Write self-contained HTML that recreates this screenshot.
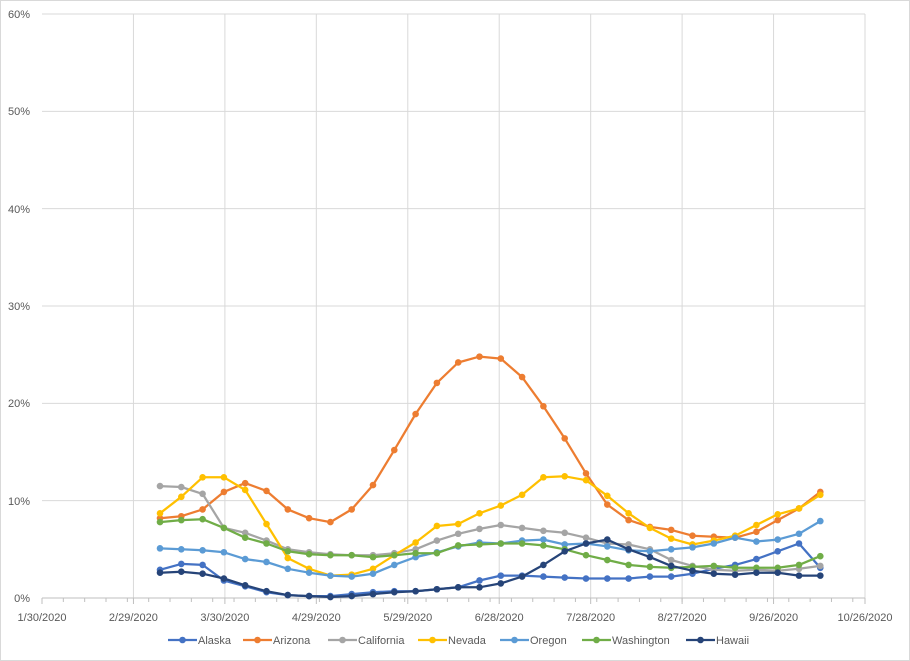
<!DOCTYPE html>
<html><head><meta charset="utf-8"><style>
html,body{margin:0;padding:0;background:#fff;}
svg{display:block;font-family:"Liberation Sans",Arial,sans-serif;}
</style></head><body>
<svg id="c" width="910" height="661" viewBox="0 0 910 661" xmlns="http://www.w3.org/2000/svg">
<rect x="0.5" y="0.5" width="909" height="660" fill="#fff" stroke="#d9d9d9"/>
<g id="grid" stroke="#d9d9d9" stroke-width="1"></g>
<g id="ylab" font-size="11" fill="#595959" text-anchor="end">
<text x="30" y="18">60%</text><text x="30" y="115">50%</text><text x="30" y="213">40%</text>
<text x="30" y="310">30%</text><text x="30" y="407">20%</text><text x="30" y="505">10%</text><text x="30" y="602">0%</text>
</g>
<g id="xlab" font-size="11" fill="#595959" text-anchor="middle">
<text x="42" y="621">1/30/2020</text><text x="133.4" y="621">2/29/2020</text><text x="224.9" y="621">3/30/2020</text>
<text x="316.3" y="621">4/29/2020</text><text x="407.8" y="621">5/29/2020</text><text x="499.2" y="621">6/28/2020</text>
<text x="590.7" y="621">7/28/2020</text><text x="682.1" y="621">8/27/2020</text><text x="773.6" y="621">9/26/2020</text>
<text x="865" y="621">10/26/2020</text>
</g>
<g id="series"></g>
<g id="legend" font-size="11" fill="#595959"></g>
</svg>
<script>
var NS="http://www.w3.org/2000/svg";
function el(n,a,p){var e=document.createElementNS(NS,n);for(var k in a)e.setAttribute(k,a[k]);p.appendChild(e);return e;}
var g=document.getElementById('grid');
var X0=42,X1=865,Y0=598,YT=14;
for(var i=1;i<=6;i++){var y=Y0-(Y0-YT)*i/6;el('line',{x1:X0,x2:X1,y1:y,y2:y},g);}
for(var i=1;i<=9;i++){var x=X0+(X1-X0)*i/9;el('line',{x1:x,x2:x,y1:YT,y2:Y0},g);}
el('line',{x1:X0,x2:X1,y1:Y0,y2:Y0,stroke:'#bfbfbf'},g);
for(var d=0;d<=270;d+=7){var x=X0+(X1-X0)*d/270;el('line',{x1:x,x2:x,y1:Y0,y2:Y0+4,stroke:'#bfbfbf'},g);}
for(var i=0;i<=9;i++){var x=X0+(X1-X0)*i/9;el('line',{x1:x,x2:x,y1:Y0,y2:Y0+6,stroke:'#bfbfbf'},g);}
var S=[
["Alaska","#4472C4",[2.9,3.5,3.4,1.8,1.2,0.6,0.3,0.2,0.2,0.4,0.6,0.7,0.7,0.9,1.1,1.8,2.3,2.3,2.2,2.1,2.0,2.0,2.0,2.2,2.2,2.5,3.0,3.4,4.0,4.8,5.6,3.1]],
["Arizona","#ED7D31",[8.2,8.4,9.1,10.9,11.8,11.0,9.1,8.2,7.8,9.1,11.6,15.2,18.9,22.1,24.2,24.8,24.6,22.7,19.7,16.4,12.8,9.6,8.0,7.3,7.0,6.4,6.3,6.2,6.8,8.0,9.2,10.9]],
["California","#A5A5A5",[11.5,11.4,10.7,7.2,6.7,5.9,5.0,4.7,4.5,4.4,4.4,4.6,5.0,5.9,6.6,7.1,7.5,7.2,6.9,6.7,6.2,5.6,5.5,5.0,3.9,3.3,2.9,2.8,2.9,2.8,3.0,3.3]],
["Nevada","#FFC000",[8.7,10.4,12.4,12.4,11.1,7.6,4.1,3.0,2.3,2.4,3.0,4.4,5.7,7.4,7.6,8.7,9.5,10.6,12.4,12.5,12.1,10.5,8.7,7.2,6.1,5.5,5.9,6.4,7.5,8.6,9.2,10.6]],
["Oregon","#5B9BD5",[5.1,5.0,4.9,4.7,4.0,3.7,3.0,2.6,2.3,2.2,2.5,3.4,4.2,4.7,5.3,5.7,5.6,5.9,6.0,5.5,5.6,5.3,4.9,4.8,5.0,5.2,5.6,6.2,5.8,6.0,6.6,7.9]],
["Washington","#70AD47",[7.8,8.0,8.1,7.2,6.2,5.6,4.8,4.5,4.4,4.4,4.2,4.4,4.6,4.6,5.4,5.5,5.6,5.6,5.4,5.0,4.4,3.9,3.4,3.2,3.1,3.2,3.3,3.1,3.1,3.1,3.4,4.3]],
["Hawaii","#264478",[2.6,2.7,2.5,2.0,1.3,0.7,0.3,0.2,0.1,0.2,0.4,0.6,0.7,0.9,1.1,1.1,1.5,2.2,3.4,4.8,5.6,6.0,5.0,4.2,3.3,2.8,2.5,2.4,2.6,2.6,2.3,2.3]]
];
var sg=document.getElementById('series');
S.forEach(function(s){
 var pts=s[2].map(function(v,i){return [160+i*21.3, Y0-(Y0-YT)*v/60];});
 el('polyline',{points:pts.map(function(p){return p[0].toFixed(1)+','+p[1].toFixed(1)}).join(' '),fill:'none',stroke:s[1],'stroke-width':2.25,'stroke-linejoin':'round'},sg);
 pts.forEach(function(p){el('circle',{cx:p[0],cy:p[1],r:3.3,fill:s[1]},sg);});
});
var lg=document.getElementById('legend');
var LX=[168,243,328,418,500,582,686];
S.forEach(function(s,i){
 var x=LX[i];
 el('line',{x1:x,x2:x+29,y1:640,y2:640,stroke:s[1],'stroke-width':2.25},lg);
 el('circle',{cx:x+14.5,cy:640,r:3.3,fill:s[1]},lg);
 var t=el('text',{x:x+30,y:644},lg);t.textContent=s[0];
});
</script>
</body></html>
